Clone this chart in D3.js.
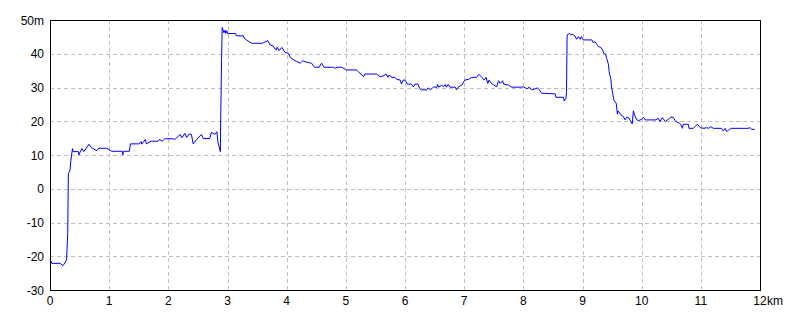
<html>
<head>
<script src="https://d3js.org/d3.v7.min.js"></script>
<style>
  body { margin: 0; background: #fff; }
  text { font-family: "Liberation Sans", Arial, sans-serif; font-size: 12px; fill: #000; }
</style>
</head>
<body>
<svg id="svg" width="800" height="320"></svg>
<script>
// distance along route (km)
var km = [0.00,0.02,0.03,0.17,0.22,0.25,0.28,0.30,0.31,0.34,0.35,0.38,0.39,0.48,0.49,0.51,0.54,0.57,0.66,0.70,
  0.79,0.82,0.96,1.04,1.22,1.23,1.24,1.34,1.36,1.51,1.54,1.55,1.61,1.63,1.71,1.83,1.85,1.90,1.94,2.08,
  2.11,2.20,2.23,2.28,2.31,2.35,2.39,2.42,2.48,2.56,2.59,2.70,2.73,2.79,2.82,2.84,2.88,2.885,2.90,2.91,
  2.94,2.96,2.97,2.99,3.00,3.14,3.15,3.27,3.28,3.32,3.41,3.59,3.68,3.72,3.77,3.82,3.84,3.87,3.92,3.97,
  4.03,4.06,4.11,4.17,4.23,4.27,4.34,4.42,4.47,4.55,4.59,4.63,4.79,4.82,4.85,4.93,5.01,5.18,5.24,5.30,
  5.32,5.52,5.58,5.63,5.68,5.71,5.73,5.78,5.83,5.86,5.92,5.94,5.97,6.00,6.04,6.11,6.14,6.17,6.22,6.25,
  6.28,6.37,6.39,6.43,6.48,6.54,6.55,6.57,6.62,6.65,6.68,6.70,6.73,6.76,6.85,6.87,6.90,6.96,7.01,7.07,
  7.13,7.21,7.25,7.30,7.34,7.37,7.40,7.42,7.46,7.55,7.58,7.61,7.65,7.67,7.75,7.80,7.97,8.00,8.06,8.10,
  8.14,8.20,8.24,8.27,8.31,8.54,8.55,8.68,8.69,8.72,8.73,8.74,8.78,8.80,8.83,8.87,8.90,8.93,8.96,8.98,
  9.01,9.16,9.18,9.21,9.24,9.27,9.31,9.34,9.36,9.39,9.41,9.44,9.45,9.48,9.49,9.51,9.53,9.57,9.59,9.60,
  9.65,9.69,9.72,9.75,9.79,9.81,9.84,9.86,9.89,9.92,9.95,10.00,10.03,10.06,10.24,10.28,10.31,10.35,10.40,10.45,
  10.49,10.53,10.58,10.64,10.66,10.69,10.70,10.79,10.80,10.87,10.90,10.94,10.99,11.05,11.10,11.13,11.17,11.21,11.35,11.38,
  11.41,11.44,11.48,11.52,11.80,11.83,11.86,11.91];
// elevation (m)
var elev = [-21.0,-21.6,-22.1,-22.1,-22.8,-22.0,-21.1,-13.0,4.4,5.6,8.0,11.9,11.0,11.0,10.0,10.9,11.9,11.0,13.2,12.2,
  11.3,12.0,12.0,11.1,11.1,10.0,11.1,11.1,13.3,13.3,14.0,13.2,14.6,13.3,14.1,14.1,14.6,14.1,14.8,14.8,
  14.6,16.1,15.1,16.4,15.2,16.2,16.1,13.3,14.6,16.1,14.9,14.9,16.7,16.1,16.9,13.7,11.0,20.4,38.3,47.8,
  46.2,47.0,46.0,46.8,46.0,46.0,45.3,45.3,44.6,44.1,43.1,43.1,43.9,42.6,42.3,41.1,41.9,40.9,41.9,40.4,
  40.1,38.9,38.3,37.7,37.2,37.9,37.5,37.2,36.0,36.0,37.2,36.0,36.0,35.7,36.0,36.0,35.2,35.2,34.2,33.2,
  34.0,34.0,33.2,33.4,34.0,33.0,33.7,33.0,33.0,32.4,32.2,31.0,32.2,32.2,31.0,31.0,30.2,31.0,31.0,29.6,
  29.3,29.3,29.9,29.3,30.1,30.1,30.9,30.1,30.7,30.2,30.9,30.1,30.9,30.1,30.1,29.3,30.1,30.7,32.2,32.4,
  33.0,33.0,33.9,33.0,32.2,33.0,31.2,32.2,31.2,30.2,32.0,31.2,32.0,31.0,30.7,30.1,30.1,30.2,29.6,30.1,
  29.3,29.6,29.9,29.3,28.3,28.1,27.1,27.1,26.0,26.8,28.8,45.6,46.0,45.6,45.8,45.3,44.3,45.1,44.3,45.1,
  44.1,44.1,43.3,43.6,42.9,42.1,41.9,41.1,40.1,39.9,38.6,36.7,34.7,32.4,30.2,28.3,26.3,25.3,22.1,23.1,
  21.9,21.4,20.4,21.2,20.9,20.1,19.2,23.1,21.4,20.4,20.2,20.6,21.2,20.4,20.4,20.9,19.9,21.1,19.9,20.6,
  21.2,21.2,19.9,19.4,19.1,17.9,19.1,19.1,17.9,17.9,18.4,19.1,18.1,17.9,18.1,17.9,18.4,17.9,17.9,17.1,
  17.9,16.9,17.6,17.9,17.9,18.1,17.6,17.6];

var xTicks = [0,1,2,3,4,5,6,7,8,9,10,11,12];
var yTicks = [-30,-20,-10,0,10,20,30,40,50];
var xUnit = "km", yUnit = "m";

var svg = d3.select("svg");
var plotL = 50, plotR = 760, plotT = 20, plotB = 290;

var x = d3.scaleLinear().domain([0, 12]).range([plotL, plotR]);
var y = d3.scaleLinear().domain([-30, 50]).range([plotB, plotT]);

// dashed grid
var grid = svg.append("g");
grid.selectAll("line.v").data(xTicks.slice(1, -1)).enter().append("line")
    .attr("x1", function(d){ return Math.round(x(d)) + 0.5; })
    .attr("x2", function(d){ return Math.round(x(d)) + 0.5; })
    .attr("y1", plotT).attr("y2", plotB)
    .attr("stroke", "#c0c0c0").attr("stroke-dasharray", "4,3");
grid.selectAll("line.h").data(yTicks.slice(1, -1)).enter().append("line")
    .attr("y1", function(d){ return Math.round(y(d)) + 0.5; })
    .attr("y2", function(d){ return Math.round(y(d)) + 0.5; })
    .attr("x1", plotL).attr("x2", plotR)
    .attr("stroke", "#c0c0c0").attr("stroke-dasharray", "4,3");

// frame
svg.append("rect")
    .attr("x", plotL + 0.5).attr("y", plotT + 0.5)
    .attr("width", plotR - plotL).attr("height", plotB - plotT)
    .attr("fill", "none").attr("stroke", "#000");

// axis labels
svg.append("g").selectAll("text").data(yTicks).enter().append("text")
    .attr("x", 44)
    .attr("y", function(d){ return y(d) + 4.5; })
    .attr("text-anchor", "end")
    .text(function(d){ return d == 50 ? d + yUnit : d; });

var xl = svg.append("g");
xl.selectAll("text").data(xTicks).enter().append("text")
    .attr("x", function(d){ return x(d); })
    .attr("y", 305)
    .attr("text-anchor", "middle")
    .text(function(d){ return d; });
xl.append("text").attr("x", x(12) + 7).attr("y", 305).text(xUnit);

// profile
var pts = km.map(function(d, i){ return [d, elev[i]]; });
var line = d3.line().x(function(d){ return x(d[0]); }).y(function(d){ return y(d[1]); });
svg.append("path").attr("d", line(pts))
    .attr("fill", "none").attr("stroke", "#0000ff").attr("stroke-width", 1);
</script>
</body>
</html>
